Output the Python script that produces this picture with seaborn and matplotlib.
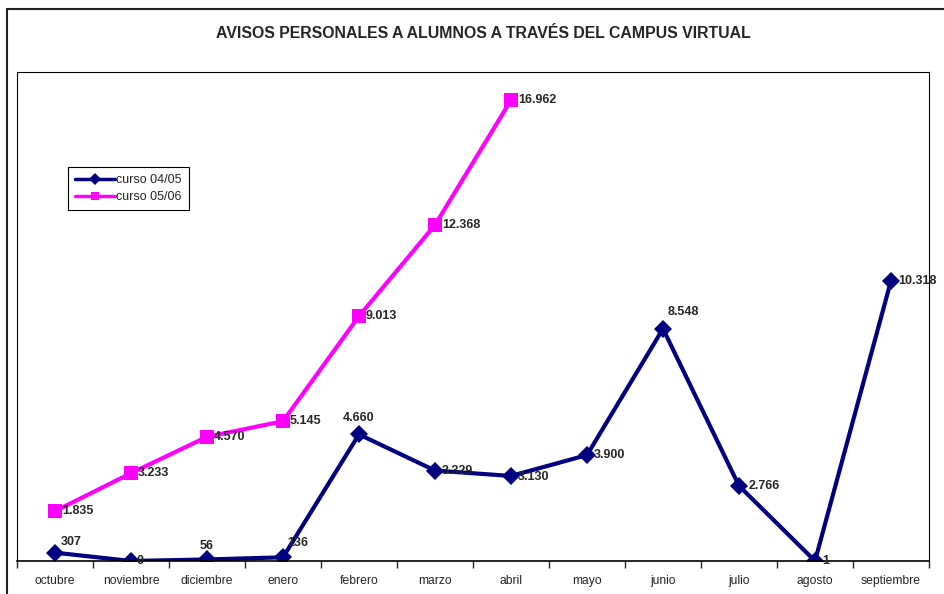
import pandas as pd
import matplotlib
matplotlib.use("Agg")
import matplotlib.pyplot as plt
import seaborn as sns
from matplotlib.patches import Rectangle

sns.set_style("white")
plt.rcParams['font.family'] = ['Liberation Sans', 'DejaVu Sans']

# datos
meses = ["octubre", "noviembre", "diciembre", "enero", "febrero", "marzo",
         "abril", "mayo", "junio", "julio", "agosto", "septiembre"]
curso_0405 = [307, 0, 56, 136, 4660, 3329, 3130, 3900, 8548, 2766, 1, 10318]
curso_0506 = [1835, 3233, 4570, 5145, 9013, 12368, 16962]

df = pd.concat([
    pd.DataFrame({"pos": range(len(curso_0405)), "avisos": curso_0405, "curso": "curso 04/05"}),
    pd.DataFrame({"pos": range(len(curso_0506)), "avisos": curso_0506, "curso": "curso 05/06"}),
], ignore_index=True)

colores = {"curso 04/05": "#000080", "curso 05/06": "#FF00FF"}
marcadores = {"curso 04/05": "D", "curso 05/06": "s"}

fig = plt.figure(figsize=(9.45, 5.94), dpi=100)
ax = fig.add_axes([17 / 945, 1 - 561 / 594, (929 - 17) / 945, (561 - 72) / 594])

sns.lineplot(data=df, x="pos", y="avisos", hue="curso", style="curso",
             palette=colores, markers=marcadores, dashes=False,
             linewidth=3, markersize=9.5, markeredgewidth=0, ax=ax)

ax.set_xlim(-0.5, len(meses) - 0.5)
ax.set_ylim(0, 18000)
ax.set_xticks(range(len(meses)))
ax.set_xticklabels(meses, fontsize=8.7)
ax.set_xticks([i - 0.5 for i in range(len(meses) + 1)], minor=True)
ax.tick_params(axis="x", which="major", length=0, pad=10)
ax.tick_params(axis="x", which="minor", length=5, width=1, direction="out", bottom=True)
ax.set_yticks([])
ax.set_xlabel("")
ax.set_ylabel("")
for s in ax.spines.values():
    s.set_visible(True)
    s.set_color("black")
    s.set_linewidth(0.8)
ax.spines["bottom"].set_linewidth(1.2)


def fmt(v):
    return f"{v:,}".replace(",", ".")


# posiciones de etiquetas (desplazamiento en puntos)
off_0405 = [(4, 8), (4, 0), (0, 10), (3, 10), (0, 12), (5, 0), (5, -1), (5, 0),
            (3, 12), (7, 0), (5, 0), (5, 0)]
ha_0405 = ["left", "left", "center", "left", "center", "left", "left", "left",
           "left", "left", "left", "left"]
for i, v in enumerate(curso_0405):
    ax.annotate(fmt(v), (i, v), xytext=off_0405[i], textcoords="offset points",
                ha=ha_0405[i], va="center", fontsize=9, fontweight="bold")
for i, v in enumerate(curso_0506):
    ax.annotate(fmt(v), (i, v), xytext=(5, 0), textcoords="offset points",
                ha="left", va="center", fontsize=9, fontweight="bold")

leg = ax.legend(loc="upper left", bbox_to_anchor=(68 / 945, 1 - 167 / 594),
                bbox_transform=fig.transFigure, fontsize=9, frameon=True,
                fancybox=False, framealpha=1, borderpad=0.55, handlelength=3.2,
                handletextpad=0.1, borderaxespad=0, labelspacing=0.45)
leg.get_frame().set_edgecolor("black")
leg.get_frame().set_linewidth(0.8)
for h in leg.get_lines():
    h.set_markersize(6)
    h.set_linewidth(2.5)

fig.suptitle("AVISOS PERSONALES A ALUMNOS A TRAVÉS DEL CAMPUS VIRTUAL",
             x=483 / 945, y=1 - 34 / 594, fontsize=11.4, fontweight="bold", va="center")

# marco exterior del gráfico
fig.patches.append(Rectangle((7 / 945, -0.1), 1.2, 1.1 - 9 / 594, transform=fig.transFigure,
                             fill=False, edgecolor="#222222", linewidth=1.5))

fig.savefig("out.png", dpi=100)
